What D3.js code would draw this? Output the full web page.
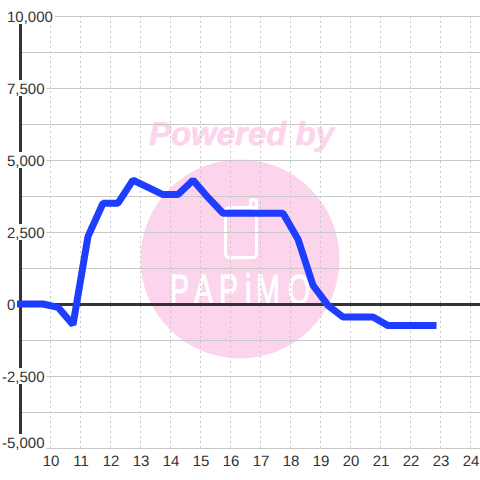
<!DOCTYPE html>
<html><head><meta charset="utf-8">
<script src="https://cdn.jsdelivr.net/npm/d3@7/dist/d3.min.js"></script>
<style>html,body{margin:0;padding:0;background:#fff}svg{display:block}text{font-family:"Liberation Sans",sans-serif;text-rendering:geometricPrecision}</style>
</head><body><svg id="c" width="480" height="480"></svg>
<script>
const hours=[9,9.25,9.75,10.25,10.75,11.25,11.75,12.25,12.75,13.25,13.75,14.25,14.75,15.25,15.75,16.25,16.75,17.25,17.75,18.25,18.75,19.25,19.75,20.25,20.75,21.25,21.75,22.25,22.75];
const values=[0,0,0,-115,-720,2350,3500,3500,4300,4050,3800,3800,4300,3700,3150,3150,3150,3150,3150,2250,650,-50,-450,-450,-450,-750,-750,-750,-750];
const xTicks=[10,11,12,13,14,15,16,17,18,19,20,21,22,23,24];
const yLabelTicks=[10000,7500,5000,2500,0,-2500,-5000];
const yGridTicks=[10000,8750,7500,6250,5000,3750,2500,1250,0,-1250,-2500,-3750,-5000];
const watermarkTop="Powered by", watermarkName="PAPiMO";

const svg=d3.select("#c");
const x=d3.scaleLinear().domain([9,24]).range([20,470]);
const y=d3.scaleLinear().domain([10000,-5000]).range([16,448]);

// watermark
const wm=svg.append("g");
wm.append("circle").attr("cx",240).attr("cy",259).attr("r",99.5).attr("fill","#fcd5ec");
wm.append("text").attr("x",241.5).attr("y",145).attr("text-anchor","middle")
  .attr("font-size",33).attr("font-weight","bold").attr("font-style","italic").attr("fill","#fcd5ec").attr("stroke","#fcd5ec").attr("stroke-width",0.6).text(watermarkTop);
wm.append("rect").attr("x",225.5).attr("y",207.5).attr("width",31).attr("height",50).attr("rx",4)
  .attr("fill","none").attr("stroke","#fff").attr("stroke-width",3);
wm.append("path").attr("d","M250.5 207V201.5Q250.5 200 252 200H255Q256.5 200 256.5 201.5V212")
  .attr("fill","none").attr("stroke","#fff").attr("stroke-width",3);
const nameScale=0.68;
wm.append("text").attr("transform",`scale(${nameScale},1)`)
  .attr("x",[170,194,219,245,256,288].map(v=>v/nameScale).join(" ")).attr("y",304)
  .attr("font-size",42).attr("fill","#fff").attr("stroke","#fff").attr("stroke-width",1).text(watermarkName);

// grids through axes
const gx=svg.append("g").attr("transform","translate(0,448)")
  .call(d3.axisTop(x).tickValues(xTicks).tickSize(432).tickFormat(""));
gx.select(".domain").remove();
gx.selectAll("line").attr("stroke","#c8c8c8").attr("stroke-dasharray","2,3");
const gy=svg.append("g").attr("transform","translate(20,0)")
  .call(d3.axisRight(y).tickValues(yGridTicks).tickSize(460).tickFormat(""));
gy.select(".domain").remove();
gy.selectAll("line").attr("stroke","#c8c8c8");

// axis lines
svg.append("line").attr("x1",x(9)+0.5).attr("x2",x(9)+0.5).attr("y1",y(10000)).attr("y2",y(-5000)).attr("stroke","#333").attr("stroke-width",3);
svg.append("line").attr("x1",20).attr("x2",480).attr("y1",y(0)+0.5).attr("y2",y(0)+0.5).attr("stroke","#333").attr("stroke-width",3);

// y labels
const fmt=d3.format(",");
const yl=svg.append("g").selectAll("g").data(yLabelTicks).join("g")
  .attr("transform",d=>`translate(${d<0?2:7},${y(d)-(d===-5000?6:0)})`);
yl.append("text").attr("y",5.5).attr("font-size",15).attr("fill","#333").text(d=>fmt(d).replace("\u2212","-")).each(function(){
  const b=this.getBBox();
  d3.select(this.parentNode).insert("rect","text").attr("x",b.x-1).attr("y",-8).attr("width",b.width+3).attr("height",16).attr("fill","#fff");
});

// x labels
svg.append("g").selectAll("text").data(xTicks).join("text")
  .attr("x",d=>x(d)+1).attr("y",466).attr("text-anchor","middle").attr("font-size",15).attr("fill","#333").text(d=>d);

// series
svg.append("path").datum(hours.map((h,i)=>[h,values[i]]))
  .attr("d",d3.line().x(d=>x(d[0])+0.5).y(d=>y(d[1])))
  .attr("fill","none").attr("stroke","#1f3dff").attr("stroke-width",7)
  .attr("stroke-linecap","square").attr("stroke-linejoin","bevel");
</script></body></html>
